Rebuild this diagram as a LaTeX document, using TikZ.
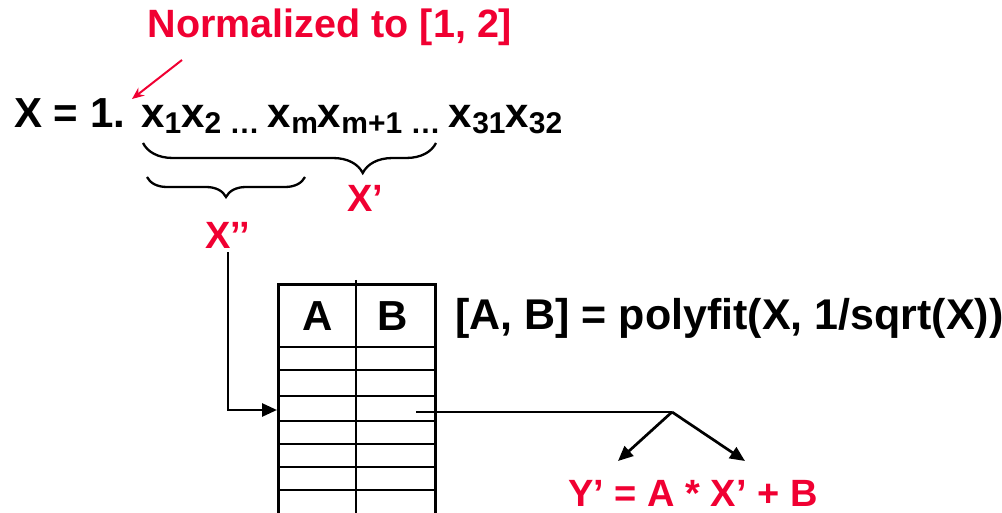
\documentclass[tikz,border=0pt]{standalone}
\usepackage{fontspec}
\setmainfont{Liberation Sans}
\usetikzlibrary{arrows.meta,decorations.pathreplacing}
\definecolor{hired}{RGB}{240,0,50}
\newcommand{\sbx}[1]{\raisebox{-6pt}{\fontsize{30}{30}\selectfont #1}}
\begin{document}
\begin{tikzpicture}[x=1pt,y=-1pt,
  lbl/.style={inner sep=0pt, font=\fontsize{38}{40}\selectfont\bfseries},
  biglbl/.style={inner sep=0pt, font=\fontsize{42}{44}\selectfont\bfseries},
  redlbl/.style={lbl, text=hired},
  ln/.style={line width=2.7pt},
  brc/.style 2 args={line width=2.3pt, decorate, decoration={brace, mirror, amplitude=#1, aspect=#2}},
  tip/.style={-{Triangle[length=15pt,width=13pt]}},
]
\clip (0,0) rectangle (1002,513);
% texts
\node[redlbl, font=\fontsize{39.5}{41}\selectfont\bfseries] (norm) at (330,27) {Normalized to [1, 2]};
\node[biglbl, anchor=base west] (xeq) at (14,128) {X = 1.};
\node[biglbl, anchor=base west] (seq) at (141,128) {x\sbx{1}x\sbx{2 … }x\sbx{m}x\sbx{m+1 … }x\sbx{31}x\sbx{32}};
\coordinate (na) at (182,60);
\coordinate (nb) at (132,99);
\draw[hired, line width=2pt, -{Stealth[length=12pt,width=10pt]}] (na) -- (nb);
% braces
\coordinate (b1s) at (143,143);
\coordinate (b1e) at (436,143);
\draw[brc={30pt}{0.75}] (b1s) -- (b1e);
\coordinate (b2s) at (147,177);
\coordinate (b2e) at (305,177);
\draw[brc={20pt}{0.5}] (b2s) -- (b2e);
\node[redlbl] (xp) at (365,198) {X’};
\node[redlbl] (xpp) at (228,235) {X’’};
% table
\node[draw, ln, minimum width=157pt, minimum height=260pt, anchor=north west, inner sep=0pt] (tbl) at (277,283) {};
\draw[ln] (356,280) -- (356,530);
\foreach \yy in {347,370,396,421,444,467,490} \draw[ln] (277,\yy) -- (434,\yy);
\node[biglbl] (ha) at (318,316) {A};
\node[biglbl] (hb) at (393,316) {B};
\node[biglbl, font=\fontsize{43}{45}\selectfont\bfseries, anchor=west] (poly) at (455,318) {[A, B] = polyfit(X, 1/sqrt(X))};
% connectors
\coordinate (inA) at (277,410);
\draw[ln, tip, shorten <=4pt] (xpp.south) |- (inA);
\coordinate (cb) at (416,412);
\coordinate (sp) at (672,412);
\coordinate (t1) at (618,461);
\coordinate (t2) at (745,461);
\draw[ln] (cb) -- (sp);
\draw[ln, tip] (sp) -- (t1);
\draw[ln, tip] (sp) -- (t2);
\node[redlbl] (yeq) at (693,493) {Y’ = A * X’ + B};
\end{tikzpicture}
\end{document}
